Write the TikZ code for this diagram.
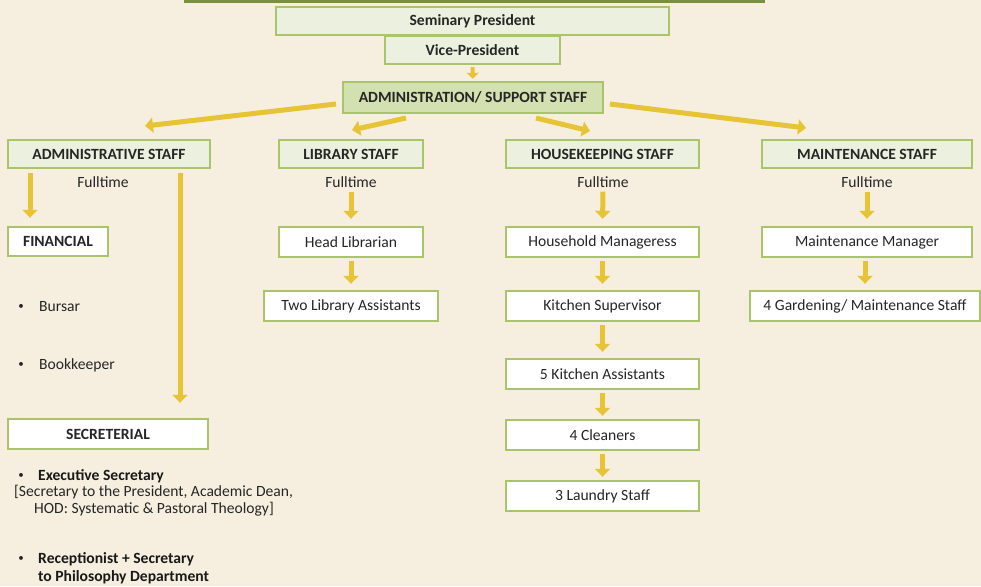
\documentclass[tikz,border=0pt]{standalone}
\usepackage{fontspec}
\setmainfont{Carlito}
\usetikzlibrary{arrows.meta}
\definecolor{bg}{HTML}{F6EFDF}
\definecolor{boxgreen}{HTML}{A9C46A}
\definecolor{lightfill}{HTML}{EBF1DE}
\definecolor{admfill}{HTML}{D3E1B0}
\definecolor{yarr}{HTML}{E6C436}
\definecolor{darkolive}{HTML}{7B8F40}
\newcommand{\fsz}{\fontsize{15.6}{18}\selectfont}
\begin{document}
\begin{tikzpicture}[x=1pt,y=-1pt,
  box/.style={draw=boxgreen,line width=2.4pt,fill=white,inner sep=0pt,font=\fsz,text=black!85},
  hbox/.style={box,fill=lightfill,font=\fsz\bfseries},
  yarrow/.style={draw=yarr,line width=5pt,-{Triangle[width=15pt,length=8pt]}},
  lbl/.style={font=\fsz,text=black!85,inner sep=0pt},
  bul/.style={font=\fontsize{11}{13}\selectfont,text=black!85,inner sep=0pt},
  blbl/.style={font=\fsz\bfseries,text=black!90,inner sep=0pt,anchor=west}]
\clip (0,0) rectangle (981,586);
\fill[bg] (0,0) rectangle (981,586);
% top partial bar
\draw[darkolive,line width=3pt,fill=admfill] (185,-20) rectangle (763,1.5);
% top boxes
\node[hbox,minimum width=393pt,minimum height=28pt] (SP) at (472.5,21) {Seminary President};
\node[hbox,minimum width=175pt,minimum height=28pt] (VP) at (472.5,50) {Vice-President};
\node[hbox,fill=admfill,minimum width=260pt,minimum height=31pt] (ADM) at (473,97.5) {ADMINISTRATION/ SUPPORT STAFF};
\draw[draw=yarr,line width=4pt,-{Triangle[width=12pt,length=6pt]},shorten <=2pt,shorten >=2pt] (VP) -- (ADM);
% level 2
\node[hbox,minimum width=202pt,minimum height=28pt] (AS) at (109,154) {ADMINISTRATIVE STAFF};
\node[hbox,minimum width=144pt,minimum height=28pt] (LS) at (351,154) {LIBRARY STAFF};
\node[hbox,minimum width=193pt,minimum height=28pt] (HS) at (602.5,154) {HOUSEKEEPING STAFF};
\node[hbox,minimum width=210pt,minimum height=28pt] (MS) at (867,154) {MAINTENANCE STAFF};
% diagonal arrows
\coordinate (a1) at (336,104);
\coordinate (a1e) at (145,126);
\coordinate (a2) at (406,118);
\coordinate (a2e) at (352,130);
\coordinate (a3) at (536,118);
\coordinate (a3e) at (590,131);
\coordinate (a4) at (610,104);
\coordinate (a4e) at (806,128);
\draw[yarrow] (a1) -- (a1e);
\draw[yarrow] (a2) -- (a2e);
\draw[yarrow] (a3) -- (a3e);
\draw[yarrow] (a4) -- (a4e);
% fulltime
\node[lbl] (F1) at (103,182) {Fulltime};
\node[lbl] (F2) at (351,182) {Fulltime};
\node[lbl] (F3) at (603,182) {Fulltime};
\node[lbl] (F4) at (867,182) {Fulltime};
% admin column
\node[box,font=\fsz\bfseries,minimum width=100pt,minimum height=29pt] (FIN) at (58,241.5) {FINANCIAL};
\node[box,font=\fsz\bfseries,minimum width=200pt,minimum height=30pt] (SEC) at (108,434) {SECRETERIAL};
\draw[yarrow,shorten <=4pt,shorten >=8pt] (AS.south -| 30,0) -- (FIN.north -| 30,0);
\draw[yarrow,shorten <=4pt,shorten >=15pt] (AS.south -| 180,0) -- (SEC.north -| 180,0);
\node[bul] (b1) at (21,307) {•};
\node[lbl,anchor=west] (t1) at (39,307) {Bursar};
\node[bul] (b2) at (21,365) {•};
\node[lbl,anchor=west] (t2) at (39,365) {Bookkeeper};
\node[bul] (b3) at (21,476) {•};
\node[blbl] (t3) at (38,476) {Executive Secretary};
\node[lbl,anchor=west] (t3a) at (14,492.5) {[Secretary to the President, Academic Dean,};
\node[lbl,anchor=west] (t3b) at (34,509.5) {HOD: Systematic \& Pastoral Theology]};
\node[bul] (b4) at (21,559) {•};
\node[blbl] (t4) at (38,559) {Receptionist + Secretary};
\node[blbl] (t4a) at (38,577) {to Philosophy Department};
% library column
\node[box,minimum width=144pt,minimum height=30pt] (HL) at (351,242) {Head Librarian};
\node[box,minimum width=174pt,minimum height=30pt] (TLA) at (351,306) {Two Library Assistants};
\draw[yarrow,shorten <=4pt,shorten >=7pt] (F2.south) -- (HL.north);
\draw[yarrow,shorten <=3pt,shorten >=6pt] (HL.south) -- (TLA.north);
% housekeeping column
\node[box,minimum width=193pt,minimum height=30pt] (HM) at (602.5,242) {Household Manageress};
\node[box,minimum width=193pt,minimum height=30pt] (KS) at (602.5,306) {Kitchen Supervisor};
\node[box,minimum width=193pt,minimum height=30pt] (KA) at (602.5,374) {5 Kitchen Assistants};
\node[box,minimum width=193pt,minimum height=30pt] (CL) at (602.5,435) {4 Cleaners};
\node[box,minimum width=193pt,minimum height=30pt] (LA) at (602.5,496) {3 Laundry Staff};
\draw[yarrow,shorten <=4pt,shorten >=7pt] (F3.south) -- (HM.north);
\draw[yarrow,shorten <=3pt,shorten >=6pt] (HM.south) -- (KS.north);
\draw[yarrow,shorten <=3pt,shorten >=6pt] (KS.south) -- (KA.north);
\draw[yarrow,shorten <=3pt,shorten >=3pt] (KA.south) -- (CL.north);
\draw[yarrow,shorten <=3pt,shorten >=3pt] (CL.south) -- (LA.north);
% maintenance column
\node[box,minimum width=210pt,minimum height=30pt] (MM) at (867,242) {Maintenance Manager};
\node[box,minimum width=230pt,minimum height=30pt] (GM) at (865,306) {4 Gardening/ Maintenance Staff};
\draw[yarrow,shorten <=4pt,shorten >=7pt] (F4.south) -- (MM.north);
\draw[yarrow,shorten <=3pt,shorten >=6pt] (MM.south -| GM.north) -- (GM.north);
\end{tikzpicture}
\end{document}
